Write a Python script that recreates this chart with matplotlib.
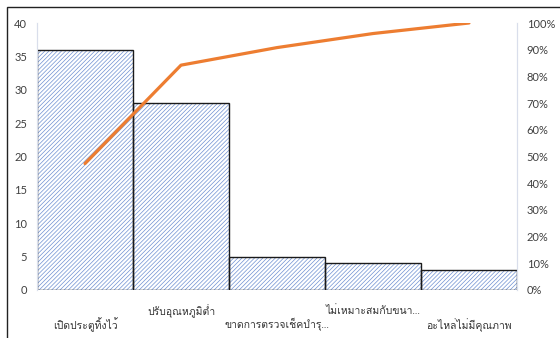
import numpy as np
import matplotlib
matplotlib.use("Agg")
import matplotlib.pyplot as plt
from matplotlib import font_manager
from matplotlib.patches import Rectangle
from matplotlib.ticker import PercentFormatter
from fontTools.ttLib import TTFont

# -------------------- data --------------------
causes = ["เปิดประตูทิ้งไว้", "ปรับอุณหภูมิต่ำ", "ขาดการตรวจเช็คบำรุ...",
          "ไม่เหมาะสมกับขนา...", "อะไหล่ไม่มีคุณภาพ"]
counts = [36, 28, 5, 4, 3]


def thai_family():
    """Return the first installed family that has Thai glyphs, else None."""
    for f in font_manager.fontManager.ttflist:
        try:
            cmap = TTFont(f.fname, fontNumber=0, lazy=True).getBestCmap()
        except Exception:
            continue
        if cmap and 0x0E01 in cmap and 0x0E34 in cmap:
            return f.name
    return None


fam = thai_family()
families = ["Lato"] + ([fam] if fam else []) + ["DejaVu Sans"]
plt.rcParams["font.family"] = families
plt.rcParams["hatch.linewidth"] = 0.5

cum_pct = np.cumsum(counts) / np.sum(counts) * 100
x = np.arange(len(counts))

fig = plt.figure(figsize=(5.6, 3.38), dpi=100)
ax = fig.add_axes([37 / 560, 48 / 338, 480 / 560, 267 / 338])

# hatched fill in blue, outline drawn separately in black
ax.bar(x, counts, width=1.0, color="white", edgecolor="#6F90D2",
       hatch="////////", linewidth=0, zorder=2)
ax.bar(x, counts, width=1.0, fill=False, edgecolor="#1a1a1a",
       linewidth=1.0, zorder=3)

ax.set_xlim(-0.5, len(counts) - 0.5)
ax.set_ylim(0, 40)
ax.set_yticks(range(0, 41, 5))

ax2 = ax.twinx()
ax2.plot(x, cum_pct, color="#ED7D31", linewidth=2.3, solid_capstyle="round", zorder=4)
ax2.set_ylim(0, 100)
ax2.set_yticks(range(0, 101, 10))
ax2.yaxis.set_major_formatter(PercentFormatter(decimals=0))

for a in (ax, ax2):
    for s in ("top", "bottom"):
        a.spines[s].set_visible(False)
    a.spines["left"].set_color("#D9DEEB")
    a.spines["right"].set_color("#D9DEEB")
    a.tick_params(length=0, labelsize=8, colors="#404040")
ax.tick_params(axis="y", pad=7)
ax2.tick_params(axis="y", pad=7)

# staggered category labels
ax.set_xticks(x)
ax.set_xticklabels([])
for i, lab in enumerate(causes):
    yoff = -25 if i % 2 == 0 else -15
    ax.annotate(lab, (x[i], 0), xytext=(0, yoff), textcoords="offset points",
                ha="center", va="center", fontsize=7.5, color="#333333")

# chart frame
fig.patches.append(Rectangle((7 / 560, -0.05), 1.2, (338 - 7) / 338 + 0.05,
                             transform=fig.transFigure, fill=False,
                             edgecolor="#222222", linewidth=1.0))

fig.savefig("out.png", dpi=100)
